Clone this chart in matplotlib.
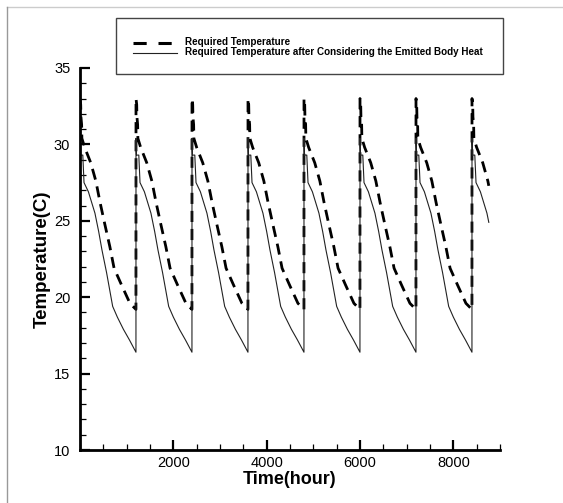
import numpy as np
import matplotlib
matplotlib.use('Agg')
import matplotlib.pyplot as plt
from matplotlib.lines import Line2D
from matplotlib.patches import Rectangle
from matplotlib.ticker import MultipleLocator, FixedLocator

plt.rcParams['font.family'] = ['Liberation Sans', 'DejaVu Sans']
plt.rcParams['lines.scale_dashes'] = False

# Inicio de cada ciclo (horas) y fin de la simulacion
cycle_start = [0, 1200, 2400, 3600, 4800, 6000, 7200, 8400]
t_end = 8760

# Perfil de un ciclo: temperatura requerida (discontinua)
dashed_phase = [0, 15, 20, 35, 40, 100, 230, 340, 430, 530, 640, 730, 890, 1070, 1199]
dashed_temp = [33.0, 32.6, 31.8, 31.3, 30.4, 29.8, 28.8, 27.6, 26.2, 24.8, 23.3, 21.9, 20.8, 19.6, 19.2]

# Perfil con el calor corporal emitido (continua)
solid_phase = [0, 10, 60, 86, 180, 320, 400, 470, 570, 700, 800, 930, 1060, 1199]
solid_temp = [30.4, 29.3, 29.3, 27.5, 26.9, 25.5, 24.3, 23.1, 21.6, 19.4, 18.7, 17.9, 17.2, 16.4]

x_ticks = [2000, 4000, 6000, 8000]


def build_series(phase, temp):
    phase = np.array(phase, dtype=float)
    temp = np.array(temp, dtype=float)
    tt, yy = [], []
    for s in cycle_start:
        keep = phase <= t_end - s
        tt.extend(s + phase[keep])
        yy.extend(temp[keep])
        if not keep.all():
            tt.append(t_end)
            yy.append(np.interp(t_end - s, phase, temp))
    return np.array(tt), np.array(yy)


t_d, y_d = build_series(dashed_phase, dashed_temp)
t_s, y_s = build_series(solid_phase, solid_temp)

fig = plt.figure(figsize=(5.63, 5.03), dpi=100)
ax = fig.add_axes([80 / 563, 1 - 450 / 503, 420 / 563, 382 / 503])

ax.plot(t_d, y_d, color='black', lw=2.0, dashes=(8, 5))
ax.plot(t_s, y_s, color='#222222', lw=0.8)

ax.set_xlim(0, 9000)
ax.set_ylim(10, 35)
ax.xaxis.set_major_locator(FixedLocator(x_ticks))
ax.xaxis.set_minor_locator(MultipleLocator(500))
ax.yaxis.set_major_locator(MultipleLocator(5))
ax.yaxis.set_minor_locator(MultipleLocator(1))
ax.tick_params(which='major', direction='in', length=7, width=1.6, labelsize=10.5)
ax.tick_params(which='minor', direction='in', length=4, width=0.9)
ax.tick_params(axis='y', pad=7)
ax.tick_params(axis='x', pad=4)

for side in ['top', 'right']:
    ax.spines[side].set_visible(False)
for side in ['left', 'bottom']:
    ax.spines[side].set_linewidth(2)

ax.set_xlabel('Time(hour)', fontsize=13, fontweight='bold', labelpad=1)
ax.set_ylabel('Temperature(C)', fontsize=13.5, fontweight='bold', labelpad=2)

# Leyenda dibujada a mano en coordenadas de pixel
W, H = 563, 503
fig.add_artist(Rectangle((116 / W, 1 - 74 / H), 387 / W, 56 / H, transform=fig.transFigure,
                         fill=False, edgecolor='#444444', lw=1))
fig.add_artist(Line2D([133 / W, 177 / W], [1 - 42.5 / H] * 2, transform=fig.transFigure,
                      color='black', lw=2.2, dashes=(9.5, 8.5)))
fig.add_artist(Line2D([133 / W, 177 / W], [1 - 52.5 / H] * 2, transform=fig.transFigure,
                      color='#222222', lw=0.8))
fig.text(185 / W, 1 - 42 / H, 'Required Temperature', fontsize=7.1, fontweight='bold',
         va='center', ha='left')
fig.text(185 / W, 1 - 52 / H, 'Required Temperature after Considering the Emitted Body Heat',
         fontsize=7.1, fontweight='bold', va='center', ha='left')

# Marco gris de la imagen
fig.add_artist(Line2D([7 / W, 1], [1 - 7 / H] * 2, transform=fig.transFigure, color='#cccccc', lw=1))
fig.add_artist(Line2D([7 / W] * 2, [0, 1 - 7 / H], transform=fig.transFigure, color='#999999', lw=1))

fig.savefig('out.png', dpi=100)
